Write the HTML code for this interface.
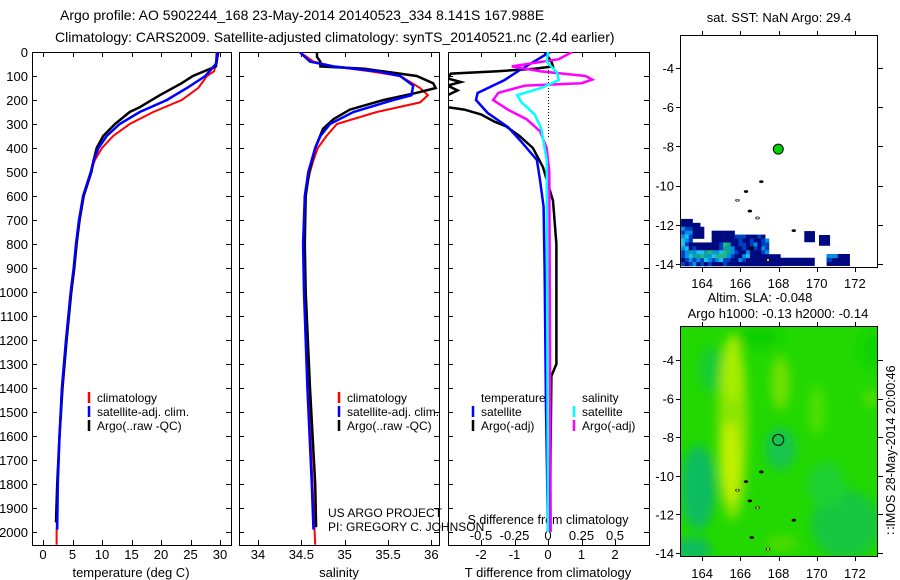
<!DOCTYPE html>
<html><head><meta charset="utf-8">
<style>
html,body{margin:0;padding:0;background:#fff;}
svg{display:block;font-family:"Liberation Sans",sans-serif;}
</style></head>
<body>
<svg id="fig" width="900" height="580" viewBox="0 0 900 580" xmlns="http://www.w3.org/2000/svg">
<defs>
<filter id="blur" x="-50%" y="-50%" width="200%" height="200%"><feGaussianBlur stdDeviation="5"/></filter>
<clipPath id="clipT"><rect x="32" y="52" width="199" height="493"/></clipPath>
<clipPath id="clipS"><rect x="239" y="52" width="200" height="493"/></clipPath>
<clipPath id="clipD"><rect x="448" y="52" width="201" height="493"/></clipPath>
<clipPath id="clipM1"><rect x="680" y="35" width="198" height="232"/></clipPath>
<clipPath id="clipM2"><rect x="680" y="326" width="198" height="230"/></clipPath>
</defs>
<text x="60" y="20" font-size="14">Argo profile: AO 5902244_168 23-May-2014 20140523_334 8.141S 167.988E</text>
<text x="55" y="42" font-size="14">Climatology: CARS2009. Satellite-adjusted climatology: synTS_20140521.nc (2.4d earlier)</text>
<g id="layer"></g>
</svg>
<script>
// ---------- data ----------
const depthTicks=[0,100,200,300,400,500,600,700,800,900,1000,1100,1200,1300,1400,1500,1600,1700,1800,1900,2000];
const tempTicks=[0,5,10,15,20,25,30];
const salTicks=[34,34.5,35,35.5,36];
const salTickLabels=["34","34.5","35","35.5","36"];
const tdTicks=[-2,-1,0,1,2];
const sdTicks=[-0.5,-0.25,0,0.25,0.5];
const sdTickLabels=["-0.5","-0.25","0","0.25","0.5"];

const tClimDepth=[0,50,80,100,150,200,250,300,350,400,450,500,600,700,800,900,1000,1200,1400,1600,1800,2000,2053];
const tClim=[29.4,29.3,29.0,27.8,26.3,23.5,18.7,14.7,11.9,10.0,8.8,8.1,6.8,6.1,5.6,5.2,4.7,3.9,3.2,2.8,2.5,2.3,2.3];
const tSatDepth=[0,50,100,150,200,250,300,350,400,450,500,600,700,800,900,1000,1200,1400,1600,1800,1990];
const tSat=[29.6,29.3,27.5,24.4,21.0,16.4,13.0,10.8,9.4,8.6,8.1,6.8,6.1,5.6,5.2,4.7,3.9,3.2,2.8,2.5,2.4];
const tArgoDepth=[0,60,100,130,180,230,250,300,350,400,450,500,600,700,800,900,1000,1200,1400,1600,1800,1960];
const tArgo=[29.7,29.3,25.4,23.5,19.8,16.4,14.7,12.2,10.2,9.1,8.6,8.2,6.9,6.2,5.7,5.3,4.8,4.0,3.3,2.8,2.4,2.2];

const sClimDepth=[0,40,60,80,100,150,180,210,250,300,350,400,450,500,600,800,1000,1400,1800,2053];
const sClim=[34.48,34.64,34.87,35.29,35.64,35.87,35.96,35.87,35.37,34.91,34.79,34.69,34.64,34.60,34.54,34.52,34.53,34.58,34.63,34.66];
const sSatDepth=[0,40,60,80,100,140,180,200,250,300,350,400,500,600,800,1000,1400,1800,1990];
const sSat=[34.48,34.60,34.87,35.37,35.64,35.79,35.77,35.56,35.10,34.83,34.72,34.66,34.58,34.54,34.52,34.53,34.57,34.62,34.64];
const sArgoDepth=[0,20,40,60,70,100,130,150,170,200,240,280,320,400,500,600,800,1000,1400,1800,1980];
const sArgo=[34.68,34.68,34.72,34.72,35.23,35.83,36.02,36.05,35.83,35.45,35.06,34.87,34.75,34.66,34.59,34.55,34.54,34.55,34.60,34.66,34.67];

const dTSatDepth=[0,75,117,171,200,254,312,367,450,533,645,900,1480,2000];
const dTSat=[0.06,-0.84,-1.3,-2.1,-2.15,-1.8,-1.2,-0.84,-0.33,-0.24,-0.13,-0.1,-0.06,0.0];
const dTArgoDepth=[0,40,60,70,80,90,110,125,140,160,180,230,240,260,290,310,350,400,480,620,800,1300,1350,2000];
const dTArgo=[-0.1,0.1,0.15,-0.4,-1.5,-2.9,-3.0,-2.6,-3.0,-2.7,-3.0,-3.0,-2.5,-2.0,-1.6,-1.25,-0.85,-0.45,-0.15,0.15,0.25,0.25,0.1,0.05];
const dSSatDepth=[0,40,88,117,150,180,208,260,320,450,2000];
const dSSat=[0.0,-0.01,0.07,0.08,-0.05,-0.23,-0.2,-0.1,-0.05,-0.01,0.0];
const dSArgoDepth=[0,30,60,80,100,115,130,140,170,200,240,280,330,400,500,2000];
const dSArgo=[0.18,0.08,-0.27,-0.06,0.28,0.33,0.25,-0.17,-0.37,-0.41,-0.3,-0.16,-0.06,-0.01,0.01,0.02];

const lonTicks=[164,166,168,170,172];
const latTicks=[-4,-6,-8,-10,-12,-14];
const argoLon=167.988, argoLat=-8.141;

// ---------- scales ----------
const yD=d=>52+d*0.24;
const xT=t=>43+t*5.9;
const xS=s=>258+(s-34)*86.7;
const xTD=v=>548+v*33.5;
const xSD=v=>548+v*134;
const mapX=lon=>778.5+(lon-168)*19.1;
const m1Y=lat=>68+(-4-lat)*19.6;
const m2Y=lat=>360+(-4-lat)*19.3;

const NS="http://www.w3.org/2000/svg";
const L=document.getElementById('layer');
function mk(tag,attrs,parent){const e=document.createElementNS(NS,tag);for(const k in attrs)e.setAttribute(k,attrs[k]);(parent||L).appendChild(e);return e;}
function txt(x,y,s,size,anchor,parent){const e=mk('text',{x:x,y:y,'font-size':size||13,'text-anchor':anchor||'start'},parent);e.textContent=s;return e;}

function panel(x0,x1,name){
  const g=mk('g',{});
  
  
  mk('rect',{x:x0+0.5,y:52.5,width:x1-x0,height:493,fill:'none',stroke:'#000','stroke-width':1},g);
  depthTicks.forEach(d=>{
    const y=Math.round(yD(d))+0.5;
    mk('line',{x1:x0,x2:x0+5,y1:y,y2:y,stroke:'#000'},g);
    mk('line',{x1:x1-5,x2:x1+1,y1:y,y2:y,stroke:'#000'},g);
  });
  return g;
}
function series(depths,vals,xf,color,w,clip,name){
  const pts=depths.map((d,i)=>xf(vals[i]).toFixed(1)+','+yD(d).toFixed(1)).join(' ');
  const p=mk('polyline',{points:pts,fill:'none',stroke:color,'stroke-width':w,'clip-path':'url(#'+clip+')','stroke-linejoin':'miter'});
  
  
}
function legend(x,y,color,label,name){
  const g=mk('g',{});
  
  
  mk('line',{x1:x,x2:x,y1:y-10,y2:y+1,stroke:color,'stroke-width':2.5},g);
  txt(x+8,y,label,12,'start',g);
}

// ---------- panel 1: temperature ----------
const p1=panel(32,231,'temperature-panel');
depthTicks.forEach(d=>{txt(28,yD(d)+5,String(d),13,'end',p1);});
tempTicks.forEach(t=>{const x=Math.round(xT(t))+0.5;mk('line',{x1:x,x2:x,y1:52,y2:57,stroke:'#000'},p1);mk('line',{x1:x,x2:x,y1:540,y2:545,stroke:'#000'},p1);txt(xT(t),559,String(t),13,'middle',p1);});
txt(131,577,'temperature (deg C)',13,'middle',p1);
series(tClimDepth,tClim,xT,'#ff0000',2,'clipT','temp-climatology-line');
series(tArgoDepth,tArgo,xT,'#000',2.5,'clipT','temp-argo-line');
series(tSatDepth,tSat,xT,'#0000ff',2.5,'clipT','temp-satellite-line');
legend(89,402,'#ff0000','climatology','legend-climatology');
legend(89,416,'#0000ff','satellite-adj. clim.','legend-satellite-adj');
legend(89,430,'#000','Argo(..raw -QC)','legend-argo');

// ---------- panel 2: salinity ----------
const p2=panel(239,439,'salinity-panel');
salTicks.forEach((s,i)=>{const x=Math.round(xS(s))+0.5;mk('line',{x1:x,x2:x,y1:52,y2:57,stroke:'#000'},p2);mk('line',{x1:x,x2:x,y1:540,y2:545,stroke:'#000'},p2);txt(xS(s),559,salTickLabels[i],13,'middle',p2);});
txt(339,577,'salinity',13,'middle',p2);
series(sClimDepth,sClim,xS,'#ff0000',2,'clipS','sal-climatology-line');
series(sArgoDepth,sArgo,xS,'#000',2.5,'clipS','sal-argo-line');
series(sSatDepth,sSat,xS,'#0000ff',2.5,'clipS','sal-satellite-line');
legend(339,402,'#ff0000','climatology','legend-climatology-2');
legend(339,416,'#0000ff','satellite-adj. clim.','legend-satellite-adj-2');
legend(339,430,'#000','Argo(..raw -QC)','legend-argo-2');
txt(328,517,'US ARGO PROJECT',12,'start',p2);
txt(328,531,'PI: GREGORY C. JOHNSON',12,'start',p2);

// ---------- panel 3: differences ----------
const p3=panel(448,649,'difference-panel');
tdTicks.forEach(v=>{const x=Math.round(xTD(v))+0.5;mk('line',{x1:x,x2:x,y1:540,y2:545,stroke:'#000'},p3);txt(xTD(v),559,String(v),13,'middle',p3);});
sdTicks.forEach((v,i)=>{const x=Math.round(xSD(v))+0.5;mk('line',{x1:x,x2:x,y1:52,y2:57,stroke:'#000'},p3);txt(xSD(v),540,sdTickLabels[i],13,'middle',p3);});
txt(548,524,'S difference from climatology',12.5,'middle',p3);
txt(548,577,'T difference from climatology',13,'middle',p3);
mk('line',{x1:548.5,x2:548.5,y1:52,y2:yD(360),stroke:'#000','stroke-dasharray':'1,2'},p3);
series(dTArgoDepth,dTArgo,xTD,'#000',2.5,'clipD','tdiff-argo-line');
series(dTSatDepth,dTSat,xTD,'#0000ff',2.5,'clipD','tdiff-satellite-line');
series(dSArgoDepth,dSArgo,xSD,'#ff00ff',2.5,'clipD','sdiff-argo-line');
series(dSSatDepth,dSSat,xSD,'#00ffff',2.5,'clipD','sdiff-satellite-line');
txt(481,402,'temperature',12,'start',p3);
txt(582,402,'salinity',12,'start',p3);
legend(473,416,'#0000ff','satellite','legend-t-satellite');
legend(473,430,'#000','Argo(-adj)','legend-t-argo');
legend(574,416,'#00ffff','satellite','legend-s-satellite');
legend(574,430,'#ff00ff','Argo(-adj)','legend-s-argo');

// ---------- map helpers ----------
function mapAxes(g,yf,top,bottom,labelY){
  mk('rect',{x:680.5,y:top+0.5,width:197,height:bottom-top,fill:'none',stroke:'#000'},g);
  lonTicks.forEach(l=>{const x=Math.round(mapX(l))+0.5;mk('line',{x1:x,x2:x,y1:top,y2:top-4,stroke:'#000'},g);mk('line',{x1:x,x2:x,y1:bottom,y2:bottom+5,stroke:'#000'},g);txt(mapX(l),labelY,String(l),13,'middle',g);});
  latTicks.forEach(l=>{const y=Math.round(yf(l))+0.5;mk('line',{x1:676,x2:680,y1:y,y2:y,stroke:'#000'},g);mk('line',{x1:878,x2:883,y1:y,y2:y,stroke:'#000'},g);txt(674,yf(l)+5,String(l),13,'end',g);});
}
const islands=[[167.1,-9.8],[166.3,-10.3],[165.85,-10.75],[166.5,-11.3],[166.9,-11.65],[166.6,-13.2],[167.45,-13.8],[168.8,-12.3]];
function drawIslands(g,yf,clip){
  islands.forEach(p=>{mk('ellipse',{cx:mapX(p[0]),cy:yf(p[1]),rx:2.2,ry:1.4,fill:'#000','clip-path':'url(#'+clip+')'},g);});
  [[165.85,-10.75],[166.9,-11.65],[167.45,-13.8]].forEach(p=>{mk('circle',{cx:mapX(p[0]),cy:yf(p[1]),r:1.2,fill:'#f0c090'},g);});
}

// ---------- SST map ----------
const m1=mk('g',{});


txt(779,22,'sat. SST: NaN Argo: 29.4',13,'middle',m1);
const sstColors={n:'#000a80',b:'#0040c0',l:'#0090e8',c:'#20c0e8',t:'#10a0a0',g:'#20b880'};
const sstLon0=162.9, sstLat0=-11.7, sstStep=0.2;
const sstRows=[
"nnn.......................",
"nnnnn.....................",
"lbbnnn....................",
"bllnnn..nnnnnn............",
"lcbnnn..nnnnnnbbbnnnbn....",
"clb.....nnnnnnnbnnbnnbl...",
"cbnnnnnnnnbgtnnbbnblnbb...",
"lcnbnnnnnnbttlnnbnnbnlb...",
"bltlcctgtlcgtlbnnlnnnbl...",
"blcttgtlcggglbnnlcnnnnnnnn",
"nblblbclblcbbnnlbnnnnnnnnn",
"bnblnbnbnnnbnnnnnnnnnnnnnn"];
const sstBlocks=[[168.1,169.9,-13.68,-14.1,'n'],[169.35,169.91,-12.32,-12.89,'n'],[170.12,170.7,-12.52,-13.07,'n'],[170.52,171.74,-13.49,-14.1,'n'],[170.52,171.1,-13.49,-13.7,'l'],[170.52,170.8,-13.7,-13.9,'b']];
sstRows.forEach((row,r)=>{[...row].forEach((ch,c)=>{if(ch==='.')return;
  const lonA=sstLon0+c*sstStep, latA=sstLat0-r*sstStep;
  const x=mapX(lonA), y=m1Y(latA);
  mk('rect',{x:x,y:y,width:mapX(lonA+sstStep)-x+0.3,height:m1Y(latA-sstStep)-y+0.3,fill:sstColors[ch],'clip-path':'url(#clipM1)'},m1);});});
sstBlocks.forEach(b=>{const x=mapX(b[0]),y=m1Y(b[2]);mk('rect',{x:x,y:y,width:mapX(b[1])-x,height:m1Y(b[3])-y,fill:sstColors[b[4]],'clip-path':'url(#clipM1)'},m1);});
drawIslands(m1,m1Y,'clipM1');
mk('circle',{cx:mapX(argoLon),cy:m1Y(argoLat),r:5,fill:'#00d000',stroke:'#000'},m1);
mapAxes(m1,m1Y,35,267,288);

// ---------- SLA map ----------
const m2=mk('g',{});


txt(760,302,'Altim. SLA: -0.048',13,'middle',m2);
txt(778,318,'Argo h1000: -0.13 h2000: -0.14',13,'middle',m2);
mk('rect',{x:680,y:326,width:198,height:230,fill:'#22d800'},m2);
const blobs=[
[163.8,-10.6,0.9,2.2,'#10bc60'],[163.5,-13.8,1.0,0.6,'#10bc60'],[168.1,-8.6,0.8,1.1,'#14c450'],
[171.5,-12.5,1.8,1.8,'#18c640'],[164.5,-4.5,0.7,1.2,'#18cc30'],[170.5,-10.5,1.0,1.2,'#1cd030'],
[165.6,-7.5,0.8,4.8,'#88e400'],[165.5,-9.3,0.45,2.2,'#c4f000'],[165.6,-4.5,0.5,1.8,'#a8ec00'],
[168.1,-5.2,0.5,1.4,'#70e000'],[170.0,-6.6,0.45,1.3,'#4ce000'],[172.8,-6.0,0.3,0.4,'#60e000'],
[168.2,-13.5,0.8,0.4,'#50dc00'],[167.0,-2.8,1.2,0.6,'#10d000'],[173.0,-3.5,0.8,1.0,'#10d400']];
const bg=mk('g',{'clip-path':'url(#clipM2)'},m2);
const bgi=mk('g',{filter:'url(#blur)'},bg);
blobs.forEach(b=>{mk('ellipse',{cx:mapX(b[0]),cy:m2Y(b[1]),rx:b[2]*19.1,ry:b[3]*19.3,fill:b[4]},bgi);});
drawIslands(m2,m2Y,'clipM2');
mk('circle',{cx:mapX(argoLon),cy:m2Y(argoLat),r:5.5,fill:'none',stroke:'#000'},m2);
mapAxes(m2,m2Y,326,556,578);

// ---------- IMOS stamp ----------
const st=txt(0,0,'\u2237IMOS 28-May-2014 20:00:46',12.5,'middle');
st.setAttribute('transform','translate(895,450) rotate(-90)');


</script>
</body></html>
